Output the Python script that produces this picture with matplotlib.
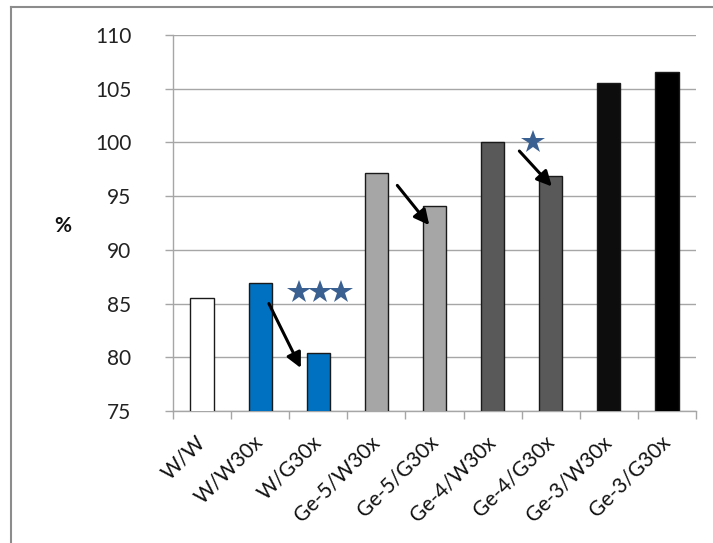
import matplotlib
matplotlib.use("Agg")
import matplotlib.pyplot as plt
from matplotlib.lines import Line2D
import matplotlib.transforms as mtransforms
import numpy as np

categories = ["W/W", "W/W30x", "W/G30x", "Ge-5/W30x", "Ge-5/G30x",
              "Ge-4/W30x", "Ge-4/G30x", "Ge-3/W30x", "Ge-3/G30x"]
values = [85.5, 86.9, 80.4, 97.2, 94.1, 100.0, 96.9, 105.5, 106.6]
bar_colors = ["#FFFFFF", "#0070C0", "#0070C0", "#A6A6A6", "#A6A6A6",
              "#595959", "#595959", "#0D0D0D", "#000000"]
y_ticks = [75, 80, 85, 90, 95, 100, 105, 110]

# arrows: (x_start, y_start, x_end, y_end) in data units
arrows = [(1.15, 85.0, 1.70, 79.0),
          (3.36, 96.0, 3.91, 92.3),
          (5.46, 99.2, 6.02, 95.9)]
# significance stars (x, y) in data units
star_x = [1.67, 2.03, 2.39, 5.69]
star_y = [86.05, 86.05, 86.05, 100.0]

plt.rcParams['font.family'] = ['Lato', 'DejaVu Sans']

fig = plt.figure(figsize=(7.13, 5.43), dpi=100)
ax = fig.add_axes([173/713, 1-411/543, (696-173)/713, (411-35)/543])

x = np.arange(len(categories))
ax.bar(x, values, width=0.4, color=bar_colors, edgecolor="#1a1a1a",
       linewidth=1.0, zorder=3)
ax.set_ylim(75, 110)
ax.set_xlim(-0.5, len(categories) - 0.5)
ax.set_yticks(y_ticks)
ax.yaxis.grid(True, color="#A6A6A6", linewidth=1.0, zorder=0)
ax.set_axisbelow(True)

ax.set_xticks(x)
ax.set_xticklabels(categories, rotation=45, ha="right", rotation_mode="anchor",
                   fontsize=15, color="#111111")
ax.tick_params(axis="x", which="major", length=0, pad=15)
offset = mtransforms.ScaledTranslation(-7/100, 0, fig.dpi_scale_trans)
for lab in ax.get_xticklabels():
    lab.set_transform(lab.get_transform() + offset)
ax.set_xticks(np.arange(-0.5, len(categories)), minor=True)
ax.tick_params(axis="x", which="minor", length=5.8, color="#A6A6A6", width=1)
ax.tick_params(axis="y", length=5.8, color="#A6A6A6", width=1, pad=24,
               labelsize=15, labelcolor="#222222")

for s in ["top", "right"]:
    ax.spines[s].set_visible(False)
for s in ["left", "bottom"]:
    ax.spines[s].set_color("#A6A6A6")
    ax.spines[s].set_linewidth(1.0)

for (x0, y0, x1, y1) in arrows:
    ax.annotate("", xy=(x1, y1), xytext=(x0, y0),
                arrowprops=dict(arrowstyle="-|>,head_length=0.9,head_width=0.45",
                                color="black", lw=2.2, shrinkA=0, shrinkB=0),
                zorder=5)
ax.plot(star_x, star_y, linestyle="none", marker="*", markersize=17.5,
        color="#3A5F91", markeredgewidth=0, zorder=5, clip_on=False)

fig.text(63/713, 1-226/543, "%", ha="center", va="center", fontsize=15,
         fontweight="bold", color="#111111")

# outer chart border
fig.add_artist(Line2D([11/713, 1], [1-7/543, 1-7/543], transform=fig.transFigure,
                      color="#8C8C8C", linewidth=1.5))
fig.add_artist(Line2D([11/713, 11/713], [1-7/543, 0], transform=fig.transFigure,
                      color="#8C8C8C", linewidth=1.5))

fig.savefig("out.png", dpi=100)
